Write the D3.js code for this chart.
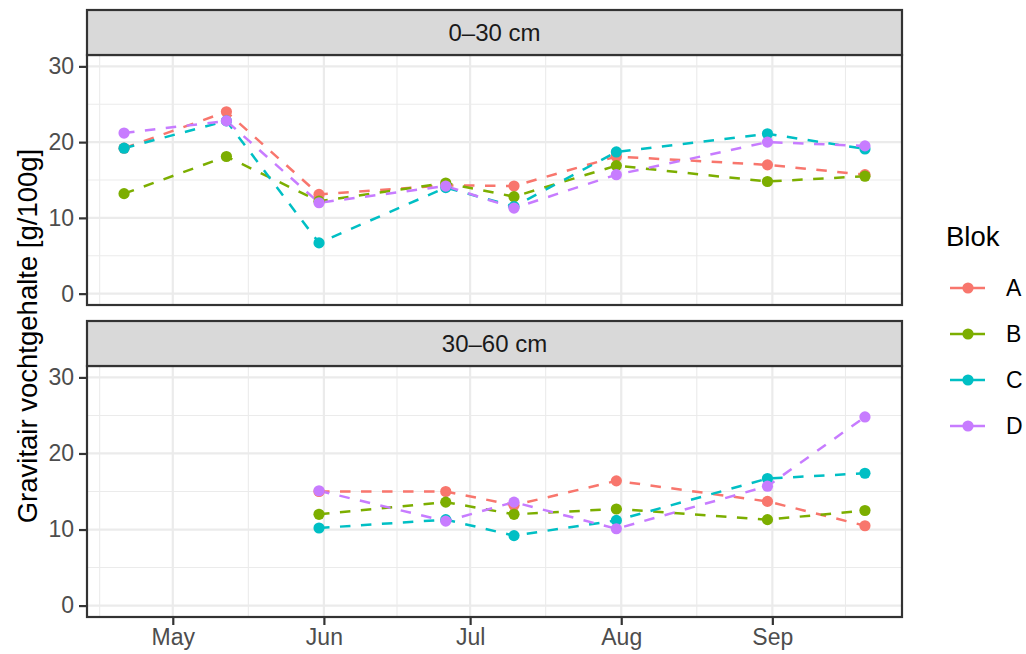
<!DOCTYPE html>
<html>
<head>
<meta charset="utf-8">
<script src="https://cdn.jsdelivr.net/npm/d3@7"></script>
<style>
  body { margin: 0; background: #fff; }
  text { font-family: "Liberation Sans", Arial, sans-serif; }
</style>
</head>
<body>
<div id="container"></div>
<script>
"use strict";

const width = 1026;
const height = 654;

// sample dates
const dates = ["2021-04-21", "2021-05-12", "2021-05-31", "2021-06-26", "2021-07-10", "2021-07-31", "2021-08-31", "2021-09-20"];
const blocks = ["A", "B", "C", "D"];
const depths = ["0\u201330 cm", "30\u201360 cm"];

// 0-30 cm
const topA = [19.2, 24.0, 13.1, 14.3, 14.2, 18.1, 17.0, 15.7];
const topB = [13.2, 18.1, 12.2, 14.6, 12.8, 16.9, 14.8, 15.5];
const topC = [19.2, 22.8, 6.7, 14.0, 11.5, 18.7, 21.1, 19.1];
const topD = [21.2, 22.8, 12.0, 14.2, 11.3, 15.7, 20.0, 19.5];

// 30-60 cm (no samples on the first two dates)
const subA = [null, null, 15.0, 15.0, 13.2, 16.4, 13.7, 10.5];
const subB = [null, null, 12.0, 13.6, 12.0, 12.7, 11.3, 12.5];
const subC = [null, null, 10.2, 11.3, 9.2, 11.2, 16.7, 17.4];
const subD = [null, null, 15.1, 11.1, 13.6, 10.1, 15.7, 24.8];

const yTicks = [0, 10, 20, 30];
const yMinor = [5, 15, 25];
const monthTicks = ["2021-05-01", "2021-06-01", "2021-07-01", "2021-08-01", "2021-09-01"];

const colors = ["#F8766D", "#7CAE00", "#00BFC4", "#C77CFF"];

const parse = d3.timeParse("%Y-%m-%d");
const dateVals = dates.map(parse);
const monthVals = monthTicks.map(parse);

const panelData = [
  [topA, topB, topC, topD],
  [subA, subB, subC, subD],
];

const panelLeft = 87;
const panelRight = 902;
const panels = [
  { stripTop: 10, top: 55, bottom: 305 },
  { stripTop: 321, top: 366, bottom: 617 },
];

const svg = d3
  .select("#container")
  .append("svg")
  .attr("width", width)
  .attr("height", height);

// x scale with 5% padding like ggplot
const xMin = d3.min(dateVals);
const xMax = d3.max(dateVals);
const xPad = (xMax - xMin) * 0.05;
const xScale = d3
  .scaleTime()
  .domain([new Date(+xMin - xPad), new Date(+xMax + xPad)])
  .range([panelLeft, panelRight]);

// minor breaks: midpoints between month breaks, one extra each side
const monthExt = [d3.timeMonth.offset(monthVals[0], -1), ...monthVals, d3.timeMonth.offset(monthVals[monthVals.length - 1], 1)];
const xMinor = d3.pairs(monthExt, (a, b) => new Date((+a + +b) / 2))
  .filter((d) => d >= xScale.domain()[0] && d <= xScale.domain()[1]);

const grey20 = "#333333";

panels.forEach((p, pi) => {
  const yScale = d3.scaleLinear().domain([-1.5, 31.5]).range([p.bottom, p.top]);
  const g = svg.append("g");

  // grid
  g.selectAll(".ymin")
    .data(yMinor)
    .enter()
    .append("line")
    .attr("x1", panelLeft)
    .attr("x2", panelRight)
    .attr("y1", (d) => yScale(d))
    .attr("y2", (d) => yScale(d))
    .attr("stroke", "#EBEBEB")
    .attr("stroke-width", 1.1);
  g.selectAll(".xmin")
    .data(xMinor)
    .enter()
    .append("line")
    .attr("x1", (d) => xScale(d))
    .attr("x2", (d) => xScale(d))
    .attr("y1", p.top)
    .attr("y2", p.bottom)
    .attr("stroke", "#EBEBEB")
    .attr("stroke-width", 1.1);
  g.selectAll(".ymaj")
    .data(yTicks)
    .enter()
    .append("line")
    .attr("x1", panelLeft)
    .attr("x2", panelRight)
    .attr("y1", (d) => yScale(d))
    .attr("y2", (d) => yScale(d))
    .attr("stroke", "#EBEBEB")
    .attr("stroke-width", 2.2);
  g.selectAll(".xmaj")
    .data(monthVals)
    .enter()
    .append("line")
    .attr("x1", (d) => xScale(d))
    .attr("x2", (d) => xScale(d))
    .attr("y1", p.top)
    .attr("y2", p.bottom)
    .attr("stroke", "#EBEBEB")
    .attr("stroke-width", 2.2);

  // lines
  const line = d3
    .line()
    .defined((d) => d != null)
    .x((d, i) => xScale(dateVals[i]))
    .y((d) => yScale(d));

  panelData[pi].forEach((vals, bi) => {
    g.append("path")
      .attr("d", line(vals))
      .attr("fill", "none")
      .attr("stroke", colors[bi])
      .attr("stroke-width", 2.5)
      .attr("stroke-dasharray", "10.5,10.5");
  });
  panelData[pi].forEach((vals, bi) => {
    g.selectAll(".pt" + bi)
      .data(vals.map((v, i) => ({ v, i })).filter((d) => d.v != null))
      .enter()
      .append("circle")
      .attr("cx", (d) => xScale(dateVals[d.i]))
      .attr("cy", (d) => yScale(d.v))
      .attr("r", 5.6)
      .attr("fill", colors[bi]);
  });

  // panel border
  g.append("rect")
    .attr("x", panelLeft)
    .attr("y", p.top)
    .attr("width", panelRight - panelLeft)
    .attr("height", p.bottom - p.top)
    .attr("fill", "none")
    .attr("stroke", grey20)
    .attr("stroke-width", 2.2);

  // strip
  g.append("rect")
    .attr("x", panelLeft)
    .attr("y", p.stripTop)
    .attr("width", panelRight - panelLeft)
    .attr("height", p.top - p.stripTop)
    .attr("fill", "#D9D9D9")
    .attr("stroke", grey20)
    .attr("stroke-width", 2.2);
  g.append("text")
    .attr("x", (panelLeft + panelRight) / 2)
    .attr("y", (p.stripTop + p.top) / 2)
    .attr("dy", "0.35em")
    .attr("text-anchor", "middle")
    .attr("fill", "#1A1A1A")
    .style("font-size", "24px")
    .text(depths[pi]);

  // y axis
  const yAxis = d3.axisLeft(yScale).tickValues(yTicks).tickSize(7).tickPadding(5);
  const ya = g.append("g").attr("transform", `translate(${panelLeft - 1}, 0)`).call(yAxis);
  ya.select(".domain").remove();
  ya.selectAll(".tick line").attr("stroke", grey20).attr("stroke-width", 2.2);
  ya.selectAll(".tick text")
    .attr("fill", "#4D4D4D")
    .style("font-size", "23px")
    .style("font-family", "Liberation Sans, Arial, sans-serif");

  if (pi === 1) {
    const xAxis = d3.axisBottom(xScale).tickValues(monthVals).tickFormat(d3.timeFormat("%b")).tickSize(7).tickPadding(4);
    const xa = g.append("g").attr("transform", `translate(0, ${p.bottom + 1})`).call(xAxis);
    xa.select(".domain").remove();
    xa.selectAll(".tick line").attr("stroke", grey20).attr("stroke-width", 2.2);
    xa.selectAll(".tick text")
      .attr("fill", "#4D4D4D")
      .style("font-size", "23px")
      .style("font-family", "Liberation Sans, Arial, sans-serif");
  }
});

// y title, centred over the panel rows (strips excluded)
svg
  .append("text")
  .attr("transform", `translate(37, ${(panels[0].top + panels[1].bottom) / 2}) rotate(-90)`)
  .attr("text-anchor", "middle")
  .style("font-size", "27.5px")
  .text("Gravitair vochtgehalte [g/100g]");

// legend
const legend = svg.append("g").attr("transform", "translate(946, 0)");
legend
  .append("text")
  .attr("x", 0)
  .attr("y", 246)
  .style("font-size", "27.5px")
  .text("Blok");

blocks.forEach((b, i) => {
  const y = 288 + i * 46;
  legend.append("line")
    .attr("x1", 4)
    .attr("x2", 39)
    .attr("y1", y)
    .attr("y2", y)
    .attr("stroke", colors[i])
    .attr("stroke-width", 2.5);
  legend.append("circle")
    .attr("cx", 22)
    .attr("cy", y)
    .attr("r", 5.6)
    .attr("fill", colors[i]);
  legend.append("text")
    .attr("x", 60)
    .attr("y", y)
    .attr("dy", "0.35em")
    .style("font-size", "23px")
    .text(b);
});
</script>
</body>
</html>
